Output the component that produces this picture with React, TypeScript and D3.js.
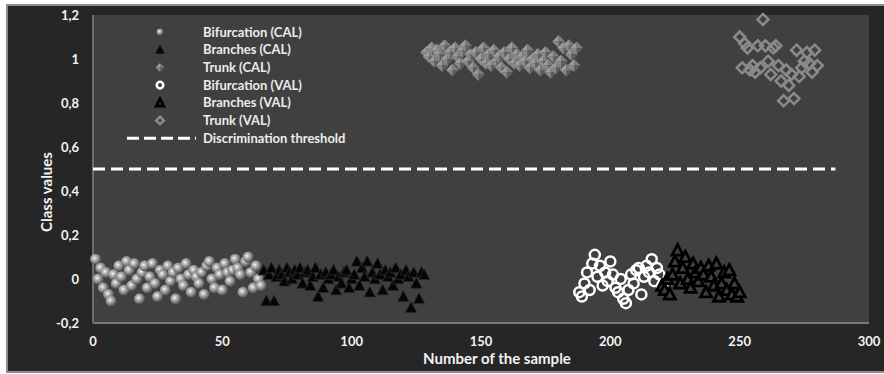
import { useRef, useEffect } from 'react';
import * as d3 from 'd3';

// sample number of the first point of each series, then its class values
const bifCalStart = 1;
const bifCalValues = [0.09, 0.0, 0.05, -0.04, 0.03, -0.07, -0.1, 0.02, -0.02, 0.06, 0.01, -0.05, 0.08, 0.04, -0.03, 0.07, 0.0, -0.09, 0.03, 0.06, -0.04, 0.01, 0.07, -0.02, -0.08, 0.04, 0.02, -0.05, 0.06, -0.01, 0.03, -0.09, 0.05, 0.0, -0.03, 0.07, 0.02, -0.06, 0.04, 0.01, -0.02, 0.03, -0.07, 0.06, 0.08, 0.0, -0.04, 0.05, 0.02, -0.05, 0.07, 0.03, -0.01, 0.04, 0.09, 0.05, 0.02, -0.06, 0.08, 0.1, 0.03, -0.04, 0.06, 0.0, -0.03];

const brCalStart = 66;
const brCalValues = [0.04, -0.1, 0.02, 0.05, -0.1, 0.01, 0.04, 0.02, -0.01, 0.05, 0.03, 0.0, 0.04, 0.02, 0.05, -0.02, 0.03, 0.04, -0.03, 0.01, 0.05, -0.08, 0.02, -0.04, 0.03, 0.0, 0.02, 0.04, -0.05, 0.01, -0.02, 0.03, 0.04, -0.04, 0.0, 0.02, 0.08, -0.03, 0.05, 0.01, 0.08, -0.06, 0.03, 0.0, 0.07, 0.02, -0.05, 0.04, 0.01, 0.03, -0.03, 0.05, 0.0, 0.02, -0.08, 0.04, 0.01, -0.13, 0.03, -0.02, -0.09, 0.03, 0.02];

const trCalStart = 129;
const trCalValues = [1.03, 1.01, 1.05, 0.99, 1.04, 1.02, 0.97, 1.06, 1.0, 1.03, 0.95, 1.05, 1.01, 0.98, 1.04, 1.06, 0.99, 1.02, 0.96, 1.03, 0.93, 1.0, 1.05, 0.98, 1.02, 0.97, 1.04, 0.99, 1.01, 0.96, 1.03, 0.94, 1.0, 1.05, 0.98, 1.02, 0.97, 1.01, 0.99, 1.04, 0.96, 1.0, 0.98, 1.02, 0.95, 0.99, 1.03, 0.97, 0.94, 1.01, 0.96, 1.08, 0.99, 1.05, 0.95, 1.06, 1.02, 0.97, 1.05];

const bifValStart = 188;
const bifValValues = [-0.06, -0.08, -0.02, 0.03, -0.05, 0.07, 0.11, 0.01, 0.06, -0.03, 0.03, -0.01, 0.08, 0.02, -0.04, -0.06, 0.0, -0.09, -0.11, -0.05, 0.02, -0.02, 0.04, 0.05, -0.07, 0.01, 0.06, 0.03, 0.09, -0.01, 0.05, 0.02, -0.03];

const brValStart = 220;
const brValValues = [-0.03, -0.05, 0.0, -0.07, 0.02, 0.08, 0.13, -0.02, 0.05, 0.1, 0.0, -0.04, 0.07, 0.03, -0.01, 0.05, 0.02, -0.06, 0.06, 0.01, -0.03, 0.07, -0.08, -0.02, 0.03, -0.05, 0.04, -0.07, -0.02, -0.08, -0.06];

const trValStart = 250;
const trValValues = [1.1, 0.96, 1.07, 1.05, 0.95, 0.97, 0.94, 1.06, 0.96, 1.18, 1.06, 0.99, 0.93, 1.05, 1.06, 0.97, 0.9, 0.81, 0.95, 0.88, 0.93, 0.82, 1.04, 0.92, 0.96, 0.99, 1.03, 0.98, 0.94, 1.04, 0.97];

const thresholdX = [0, 287];
const thresholdValue = 0.5;

const xTicks = [0, 50, 100, 150, 200, 250, 300];
const yTicks = [-0.2, 0, 0.2, 0.4, 0.6, 0.8, 1, 1.2];
const yTickLabels = ['-0,2', '0', '0,2', '0,4', '0,6', '0,8', '1', '1,2'];

const legendLabels = ['Bifurcation (CAL)', 'Branches (CAL)', 'Trunk (CAL)', 'Bifurcation (VAL)', 'Branches (VAL)', 'Trunk (VAL)', 'Discrimination threshold'];

const FONT = 'Lato, "Open Sans", sans-serif';

type Pt = { x: number; y: number };
const toPoints = (start: number, vals: number[]): Pt[] => vals.map((v, i) => ({ x: start + i, y: v }));

export default function App() {
    const svgRef = useRef<SVGSVGElement>(null);

    useEffect(() => {
        if (!svgRef.current) return;
        const width = 884;
        const height = 374;

        d3.select(svgRef.current).selectAll('*').remove();
        const svg = d3.select(svgRef.current).attr('width', width).attr('height', height);

        const x = d3.scaleLinear().domain([0, 300]).range([93, 869]);
        const y = d3.scaleLinear().domain([-0.2, 1.2]).range([323, 15]);

        // gradient for the sphere markers
        const defs = svg.append('defs');
        const grad = defs.append('radialGradient').attr('id', 'sphere')
            .attr('cx', '40%').attr('cy', '40%').attr('r', '62%');
        grad.append('stop').attr('offset', '0%').attr('stop-color', '#ffffff');
        grad.append('stop').attr('offset', '22%').attr('stop-color', '#c8c8c8');
        grad.append('stop').attr('offset', '60%').attr('stop-color', '#8c8c8c');
        grad.append('stop').attr('offset', '100%').attr('stop-color', '#4a4a4a');

        // outer frame + plot area
        svg.append('rect').attr('x', 7).attr('y', 5).attr('width', 884).attr('height', 367)
            .attr('fill', '#262626').attr('stroke', '#8c8c8c').attr('stroke-width', 2);
        svg.append('rect').attr('x', x(0)).attr('y', y(1.2)).attr('width', x(300) - x(0)).attr('height', y(-0.2) - y(1.2))
            .attr('fill', '#404040');

        // axis lines
        svg.append('line').attr('x1', x(0)).attr('x2', x(0)).attr('y1', y(1.2)).attr('y2', y(-0.2))
            .attr('stroke', '#6e6e6e').attr('stroke-width', 2);
        svg.append('line').attr('x1', x(0)).attr('x2', x(300)).attr('y1', y(-0.2)).attr('y2', y(-0.2))
            .attr('stroke', '#7a7a7a').attr('stroke-width', 2);

        // tick labels
        svg.selectAll('.xt').data(xTicks).enter().append('text')
            .attr('x', d => x(d)).attr('y', 346).attr('text-anchor', 'middle')
            .attr('fill', '#f2f2f2').style('font', `bold 13px ${FONT}`).text(d => String(d));
        svg.selectAll('.yt').data(yTicks).enter().append('text')
            .attr('x', 79).attr('y', d => y(d) + 5).attr('text-anchor', 'end')
            .attr('fill', '#f2f2f2').style('font', `bold 13px ${FONT}`).text((d, i) => yTickLabels[i]);

        // axis titles
        svg.append('text').attr('x', 497).attr('y', 364).attr('text-anchor', 'middle')
            .attr('fill', '#f2f2f2').style('font', `bold 15px ${FONT}`).text('Number of the sample');
        svg.append('text').attr('transform', 'translate(52,192) rotate(-90)').attr('text-anchor', 'middle')
            .attr('fill', '#f2f2f2').style('font', `bold 15px ${FONT}`).text('Class values');

        // threshold
        svg.append('line')
            .attr('x1', x(thresholdX[0])).attr('x2', x(thresholdX[1]))
            .attr('y1', y(thresholdValue)).attr('y2', y(thresholdValue))
            .attr('stroke', '#ffffff').attr('stroke-width', 3).attr('stroke-dasharray', '12,6');

        // marker drawers
        const tri = (s: number) => `M0,${-s}L${s * 0.95},${s * 0.8}L${-s * 0.95},${s * 0.8}Z`;
        const diamond = (s: number) => `M0,${-s}L${s},0L0,${s}L${-s},0Z`;

        const drawSphere = (g: any, r: number) => {
            g.append('circle').attr('r', r).attr('fill', 'url(#sphere)');
        };
        const drawSolidTri = (g: any, s: number) => {
            g.append('path').attr('d', tri(s)).attr('fill', '#050505').attr('stroke', '#2a2a2a').attr('stroke-width', 0.8);
        };
        const drawPyramid = (g: any, s: number) => {
            g.append('path').attr('d', `M0,0L${-s},0L0,${-s}Z`).attr('fill', '#9c9c9c');
            g.append('path').attr('d', `M0,0L0,${-s}L${s},0Z`).attr('fill', '#7e7e7e');
            g.append('path').attr('d', `M0,0L${s},0L0,${s}Z`).attr('fill', '#5e5e5e');
            g.append('path').attr('d', `M0,0L0,${s}L${-s},0Z`).attr('fill', '#888888');
        };
        const drawRing = (g: any, r: number) => {
            g.append('circle').attr('r', r).attr('fill', 'none').attr('stroke', '#ffffff').attr('stroke-width', 2.5);
        };
        const drawOpenTri = (g: any, s: number) => {
            g.append('path').attr('d', tri(s)).attr('fill', '#404040').attr('stroke', '#000').attr('stroke-width', 2.8)
                .attr('stroke-linejoin', 'miter');
        };
        const drawOpenDiamond = (g: any, s: number) => {
            g.append('path').attr('d', diamond(s)).attr('fill', 'none').attr('stroke', '#8a8a8a').attr('stroke-width', 2.5);
        };

        const series = [
            { pts: toPoints(bifCalStart, bifCalValues), draw: (g: any) => drawSphere(g, 5.5) },
            { pts: toPoints(brCalStart, brCalValues), draw: (g: any) => drawSolidTri(g, 6) },
            { pts: toPoints(trCalStart, trCalValues), draw: (g: any) => drawPyramid(g, 6.5) },
            { pts: toPoints(bifValStart, bifValValues), draw: (g: any) => drawRing(g, 5) },
            { pts: toPoints(brValStart, brValValues), draw: (g: any) => drawOpenTri(g, 5.8) },
            { pts: toPoints(trValStart, trValValues), draw: (g: any) => drawOpenDiamond(g, 5.5) },
        ];

        series.forEach(s => {
            const grp = svg.append('g');
            s.pts.forEach(p => {
                const g = grp.append('g').attr('transform', `translate(${x(p.x)},${y(p.y)})`);
                s.draw(g);
            });
        });

        // legend
        const legendMarkers = [
            (g: any) => drawSphere(g, 3.5),
            (g: any) => drawSolidTri(g, 5),
            (g: any) => drawPyramid(g, 4.5),
            (g: any) => drawRing(g, 3.3),
            (g: any) => drawOpenTri(g, 4),
            (g: any) => drawOpenDiamond(g, 3.8),
        ];
        const legend = svg.append('g');
        legendLabels.forEach((label, i) => {
            const cy = 32 + i * 17.7;
            if (i < legendMarkers.length) {
                const g = legend.append('g').attr('transform', `translate(160,${cy})`);
                legendMarkers[i](g);
            } else {
                legend.append('line').attr('x1', 127).attr('x2', 196).attr('y1', cy).attr('y2', cy)
                    .attr('stroke', '#ffffff').attr('stroke-width', 3).attr('stroke-dasharray', '12,5');
            }
            legend.append('text').attr('x', 203).attr('y', cy + 4.5)
                .attr('fill', '#ececec').style('font', `bold 13px ${FONT}`).text(label);
        });
    }, []);

    return (
        <div style={{ position: 'absolute', left: 0, top: 0, background: '#fff' }}>
            <svg ref={svgRef} style={{ display: 'block' }}></svg>
        </div>
    );
}
